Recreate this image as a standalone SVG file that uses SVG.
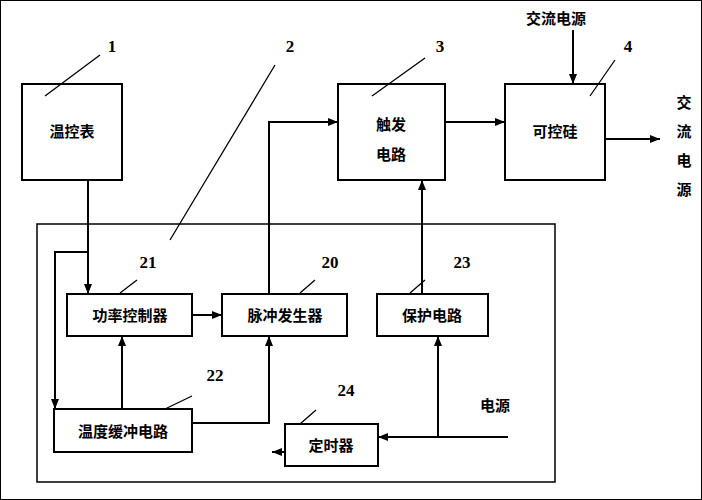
<svg xmlns="http://www.w3.org/2000/svg" width="702" height="500" viewBox="0 0 702 500">
<defs><marker id="a" markerWidth="10" markerHeight="8" refX="10" refY="4" orient="auto" markerUnits="userSpaceOnUse"><path d="M0,0L10,4L0,8Z" fill="#000"/></marker>
<style>rect{fill:#fff;stroke:#000;stroke-width:2}.c{fill:none;stroke:#000;stroke-width:2;marker-end:url(#a)}.l{fill:none;stroke:#000;stroke-width:1.3}text{font-family:"Noto Sans CJK SC",sans-serif;font-size:15px;font-weight:bold;text-anchor:middle}.n{font-family:"Liberation Serif",serif;font-size:17px;font-weight:bold}</style></defs>
<rect width="702" height="500" fill="#fff" stroke="none"/>
<rect x="37" y="224" width="518" height="258" style="stroke-width:1.5"/>
<g id="n1"><rect x="22" y="84" width="100" height="96"/><text x="72" y="137">温控表</text></g>
<g id="n3"><rect x="338" y="84" width="107" height="96"/><text x="391" y="130">触发</text><text x="391" y="160">电路</text></g>
<g id="n4"><rect x="505" y="84" width="100" height="96"/><text x="555" y="137">可控硅</text></g>
<g id="n21"><rect x="67" y="294" width="125" height="42"/><text x="130" y="321">功率控制器</text></g>
<g id="n20"><rect x="222" y="294" width="125" height="42"/><text x="285" y="321">脉冲发生器</text></g>
<g id="n23"><rect x="377" y="294" width="111" height="42"/><text x="432" y="321">保护电路</text></g>
<g id="n22"><rect x="54" y="409" width="138" height="43"/><text x="123" y="437">温度缓冲电路</text></g>
<g id="n24"><rect x="285" y="424" width="93" height="42"/><text x="331" y="451">定时器</text></g>
<g id="connectors">
<path class="c" d="M88 180V294"/>
<path class="c" d="M88 252H55V409"/>
<path class="c" d="M192 315H222"/>
<path class="c" d="M122 409V336"/>
<path class="c" d="M192 423H269V336"/>
<path class="c" d="M269 294V122H338"/>
<path class="c" d="M422 294V180"/>
<path class="c" d="M445 122H505"/>
<path class="c" d="M605 139H660"/>
<path class="c" d="M573 30V84"/>
<path class="c" d="M508 437H378"/>
<path class="c" d="M438 437V336"/>
<path class="c" d="M285 452H272"/>
</g>
<g id="labels">
<path class="l" d="M45 96L100 55M170 240L275 65M372 96L425 58M590 96L615 60M120 293L137 280M300 293L315 280M410 293L425 280M165 409L192 396M300 424L316 410"/>
<text class="n" x="112" y="52">1</text><text class="n" x="290" y="52">2</text><text class="n" x="440" y="52">3</text><text class="n" x="628" y="52">4</text>
<text class="n" x="148" y="268">21</text><text class="n" x="330" y="268">20</text><text class="n" x="462" y="268">23</text><text class="n" x="215" y="381">22</text><text class="n" x="346" y="396">24</text>
<text x="556" y="24">交流电源</text>
<text x="684" y="108">交</text><text x="684" y="137">流</text><text x="684" y="166">电</text><text x="684" y="195">源</text>
<text x="495" y="411">电源</text>
</g>
</svg>
